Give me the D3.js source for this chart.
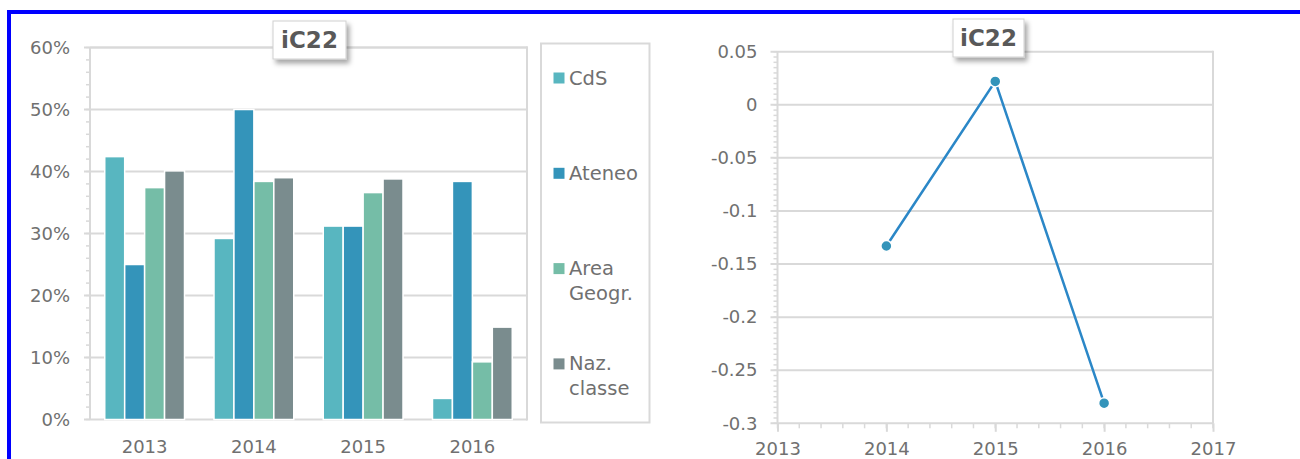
<!DOCTYPE html>
<html>
<head>
<meta charset="utf-8">
<script src="https://cdn.jsdelivr.net/npm/d3@7"></script>
<style>
  html, body { margin: 0; padding: 0; background: #fff; }
  svg { display: block; font-family: "DejaVu Sans", sans-serif; }
</style>
</head>
<body>
<svg id="chart" width="1300" height="459"></svg>
<script>
// ---- Data ----
const years = ["2013", "2014", "2015", "2016"];
const series = ["CdS", "Ateneo", "Area Geogr.", "Naz. classe"];
const cdsValues    = [0.424, 0.292, 0.312, 0.034];
const ateneoValues = [0.250, 0.500, 0.312, 0.384];
const areaValues   = [0.374, 0.384, 0.366, 0.093];
const nazValues    = [0.401, 0.390, 0.388, 0.149];
const barTicks = [0, 0.1, 0.2, 0.3, 0.4, 0.5, 0.6];

const lineYears  = [2014, 2015, 2016];
const lineValues = [-0.133, 0.022, -0.281];
const lineXTicks = [2013, 2014, 2015, 2016, 2017];
const lineYTicks = [0.05, 0, -0.05, -0.1, -0.15, -0.2, -0.25, -0.3];
const chartTitle = "iC22";

const seriesColors = ["#58B6C0", "#3494BA", "#75BDA7", "#7A8C8E"];
const allValues = [cdsValues, ateneoValues, areaValues, nazValues];

const grid = "#d9d9d9";
const txt = "#707070";
const fs = "18px";

const svg = d3.select("#chart");
svg.append("rect").attr("width", 1300).attr("height", 459).attr("fill", "#fff");

const defs = svg.append("defs");
const f = defs.append("filter").attr("id", "shadow").attr("x", "-30%").attr("y", "-30%").attr("width", "160%").attr("height", "170%");
f.append("feDropShadow").attr("dx", 3).attr("dy", 4).attr("stdDeviation", 2.5)
  .attr("flood-color", "#000").attr("flood-opacity", 0.35);

// ---- Left: grouped bar chart ----
const L = { left: 90, right: 527, top: 47.5, bottom: 419.5 };
const yL = d3.scaleLinear().domain([0, 0.6]).range([L.bottom, L.top]);
const x0 = d3.scaleBand().domain(years).range([L.left, L.right]).paddingInner(0.27).paddingOuter(0.135);
const x1 = d3.scaleBand().domain(series).range([0, x0.bandwidth()]).padding(0);

const gL = svg.append("g");
gL.selectAll("line.minor").data(d3.range(0, 0.6001, 0.02)).join("line")
  .attr("x1", L.left - 4).attr("x2", L.left)
  .attr("y1", d => yL(d)).attr("y2", d => yL(d))
  .attr("stroke", grid).attr("stroke-width", 1.5);
gL.selectAll("line.grid").data(barTicks).join("line")
  .attr("x1", L.left - 6).attr("x2", L.right)
  .attr("y1", d => yL(d)).attr("y2", d => yL(d))
  .attr("stroke", grid).attr("stroke-width", 2);
gL.append("line").attr("x1", L.left).attr("x2", L.left).attr("y1", L.top).attr("y2", L.bottom)
  .attr("stroke", grid).attr("stroke-width", 2);
gL.append("line").attr("x1", L.right).attr("x2", L.right).attr("y1", L.top - 1).attr("y2", L.bottom + 1)
  .attr("stroke", grid).attr("stroke-width", 2);

const yAxisL = d3.axisLeft(yL).tickValues(barTicks).tickFormat(d3.format(".0%")).tickSize(0).tickPadding(20);
const ayL = gL.append("g").attr("transform", `translate(${L.left},0)`).call(yAxisL);
ayL.select(".domain").remove();
ayL.selectAll("text").attr("fill", txt).style("font-size", fs).style("font-family", "DejaVu Sans");

const xAxisL = d3.axisBottom(x0).tickSize(0).tickPadding(21);
const axL = gL.append("g").attr("transform", `translate(0,${L.bottom})`).call(xAxisL);
axL.select(".domain").remove();
axL.selectAll("text").attr("fill", txt).style("font-size", fs).style("font-family", "DejaVu Sans");

const barData = [];
years.forEach((y, i) => series.forEach((s, j) => barData.push({ year: y, s, j, v: allValues[j][i] })));
gL.selectAll("rect.bar").data(barData).join("rect")
  .attr("x", d => x0(d.year) + x1(d.s))
  .attr("width", x1.bandwidth())
  .attr("y", d => yL(d.v))
  .attr("height", d => yL(0) - yL(d.v))
  .attr("fill", d => seriesColors[d.j])
  .attr("stroke", "#fff").attr("stroke-width", 1.5);

// legend
const lg = svg.append("g");
lg.append("rect").attr("x", 541).attr("y", 43.5).attr("width", 108.5).attr("height", 379)
  .attr("fill", "#fff").attr("stroke", grid).attr("stroke-width", 2);
series.forEach((s, i) => {
  const cy = 77.5 + i * 95.3;
  lg.append("rect").attr("x", 553.5).attr("y", cy - 5).attr("width", 11).attr("height", 11).attr("fill", seriesColors[i]);
  const t = lg.append("text").attr("x", 569).attr("y", cy)
    .attr("fill", txt).style("font-size", "19.5px");
  s.split(" ").forEach((w, k) => {
    t.append("tspan").attr("x", 569).attr("dy", k === 0 ? "0.36em" : "25px").text(w);
  });
});

function titleBox(x, y, w, h) {
  const g = svg.append("g");
  g.append("rect").attr("x", x).attr("y", y).attr("width", w).attr("height", h)
    .attr("fill", "#fff").attr("stroke", "#d0d0d0").attr("stroke-width", 1).attr("filter", "url(#shadow)");
  g.append("text").attr("x", x + w / 2).attr("y", y + h / 2).attr("dy", "0.36em")
    .attr("text-anchor", "middle").attr("fill", "#595959")
    .style("font-size", "23px").style("font-weight", "bold").text(chartTitle);
}
gL.append("line").attr("x1", L.left).attr("x2", L.right + 1).attr("y1", L.top).attr("y2", L.top)
  .attr("stroke", grid).attr("stroke-width", 2);

// ---- Right: line chart ----
const R = { left: 777.5, right: 1213, top: 51.7, bottom: 423.3 };
const xR = d3.scaleLinear().domain([2013, 2017]).range([R.left, R.right]);
const yR = d3.scaleLinear().domain([-0.3, 0.05]).range([R.bottom, R.top]);
const gR = svg.append("g");

gR.selectAll("line.minor").data(d3.range(-0.3, 0.0501, 0.005)).join("line")
  .attr("x1", R.left - 4).attr("x2", R.left)
  .attr("y1", d => yR(d)).attr("y2", d => yR(d))
  .attr("stroke", grid).attr("stroke-width", 1.5);
gR.selectAll("line.grid").data(lineYTicks).join("line")
  .attr("x1", R.left - 7).attr("x2", R.right)
  .attr("y1", d => yR(d)).attr("y2", d => yR(d))
  .attr("stroke", grid).attr("stroke-width", 2);
gR.selectAll("line.xminor").data(d3.range(2013, 2017.001, 0.2)).join("line")
  .attr("x1", d => xR(d)).attr("x2", d => xR(d))
  .attr("y1", R.bottom).attr("y2", R.bottom + 5)
  .attr("stroke", grid).attr("stroke-width", 1.5);
gR.append("line").attr("x1", R.left).attr("x2", R.left).attr("y1", R.top).attr("y2", R.bottom)
  .attr("stroke", grid).attr("stroke-width", 2);
gR.append("line").attr("x1", R.right).attr("x2", R.right).attr("y1", R.top - 1).attr("y2", R.bottom)
  .attr("stroke", grid).attr("stroke-width", 2);

const yAxisR = d3.axisLeft(yR).tickValues(lineYTicks).tickFormat(d => String(+d.toFixed(2))).tickSize(0).tickPadding(20);
const ayR = gR.append("g").attr("transform", `translate(${R.left},0)`).call(yAxisR);
ayR.select(".domain").remove();
ayR.selectAll("text").attr("fill", txt).style("font-size", fs).style("font-family", "DejaVu Sans");

const xAxisR = d3.axisBottom(xR).tickValues(lineXTicks).tickFormat(d3.format("d")).tickSize(8.5).tickPadding(10);
const axR = gR.append("g").attr("transform", `translate(0,${R.bottom})`).call(xAxisR);
axR.select(".domain").remove();
axR.selectAll("line").attr("stroke", grid).attr("stroke-width", 2);
axR.selectAll("text").attr("fill", txt).style("font-size", fs).style("font-family", "DejaVu Sans");

const pts = lineYears.map((y, i) => [xR(y), yR(lineValues[i])]);
gR.append("path").attr("d", d3.line()(pts)).attr("fill", "none")
  .attr("stroke", "#2B87C7").attr("stroke-width", 2.5);
gR.selectAll("circle").data(pts).join("circle")
  .attr("cx", d => d[0]).attr("cy", d => d[1]).attr("r", 5.5)
  .attr("fill", "#3494BA").attr("stroke", "#fff").attr("stroke-width", 1.5);

titleBox(273, 21, 73, 38);
titleBox(953, 19, 71, 38);

// blue frame
svg.append("rect").attr("x", 7).attr("y", 10).attr("width", 1293).attr("height", 4).attr("fill", "#0000FF");
svg.append("rect").attr("x", 7).attr("y", 10).attr("width", 4).attr("height", 449).attr("fill", "#0000FF");
</script>
</body>
</html>
